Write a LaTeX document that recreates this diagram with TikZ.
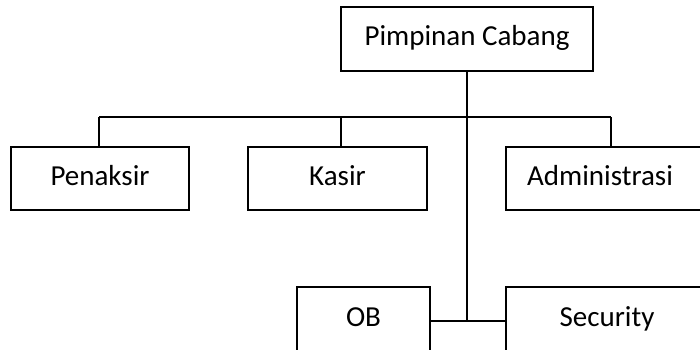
\documentclass[tikz,border=0pt]{standalone}
\usepackage{fontspec}
\setmainfont{Carlito}
\begin{document}
\begin{tikzpicture}[x=1pt,y=-1pt,
  box/.style={draw=black, line width=1.6pt, rectangle, inner sep=0pt,
    font=\fontsize{29}{34}\selectfont, text height=19pt, text depth=6pt},
  lbl/.style={inner sep=0pt, font=\fontsize{29}{34}\selectfont, text height=19pt, text depth=6pt},
  conn/.style={draw=black, line width=1.3pt}]
\useasboundingbox (0,0) rectangle (700,349);
\clip (0,0) rectangle (700,349);
\fill[white] (0,0) rectangle (700,349);
% boxes
\node[box, minimum width=252pt, minimum height=64pt] (pc) at (467,39) {Pimpinan Cabang};
\node[box, minimum width=178pt, minimum height=63pt] (pen) at (100,178.5) {Penaksir};
\node[box, minimum width=179pt, minimum height=63pt] (kas) at (337.5,178.5) {Kasir};
\node[box, minimum width=206pt, minimum height=63pt] (adm) at (609,178.5) {};
\node[lbl] (admt) at (600,178.5) {Administrasi};
\node[box, minimum width=133pt, minimum height=90pt, anchor=north] (ob) at (363.5,286) {};
\node[lbl] (obt) at (363.5,320) {OB};
\node[box, minimum width=206pt, minimum height=90pt, anchor=north] (sec) at (609,286) {};
\node[lbl] (sect) at (607,320) {Security};
% connectors
\coordinate (b1) at (99,117);
\coordinate (b2) at (341,117);
\coordinate (b3) at (611,117);
\coordinate (jb) at (467,321);
\draw[conn] (pc.south) -- (jb);
\draw[conn] (b1) -- (b3);
\draw[conn] (b1) -- (b1 |- pen.north);
\draw[conn] (b2) -- (b2 |- kas.north);
\draw[conn] (b3) -- (b3 |- adm.north);
\draw[conn] (ob.east |- jb) -- (sec.west |- jb);
\end{tikzpicture}
\end{document}
